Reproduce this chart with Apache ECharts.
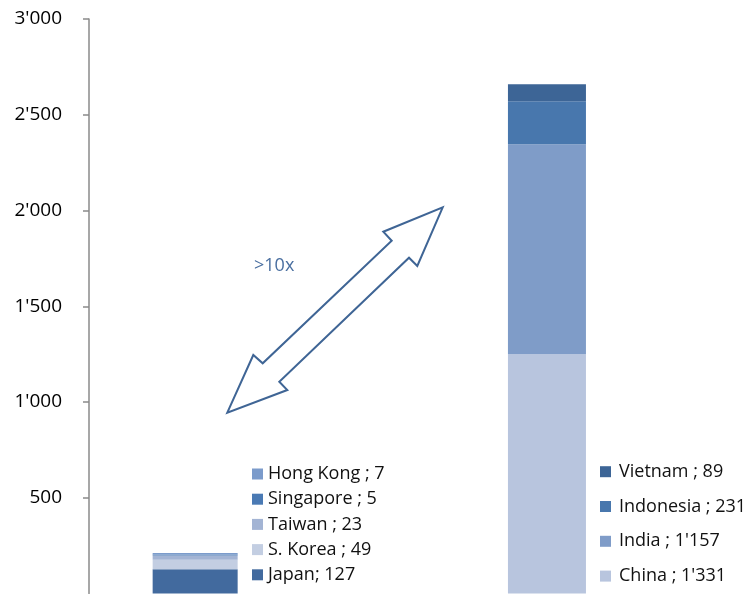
<!DOCTYPE html>
<html>
<head>
<meta charset="utf-8">
<script src="https://cdn.jsdelivr.net/npm/echarts@6/dist/echarts.min.js"></script>
<style>
html, body { margin: 0; padding: 0; background: #fff; }
#main { width: 754px; height: 594px; }
</style>
</head>
<body>
<div id="main"></div>
<script>
// two groups of countries, population in millions
var categories = ['Developed Asia', 'Emerging Asia'];

var leftNames = ['Japan; 127', 'S. Korea ; 49', 'Taiwan ; 23', 'Singapore ; 5', 'Hong Kong ; 7'];
var leftValues = [127, 49, 23, 5, 7];
var leftColors = ['#426a9e', '#c3cee2', '#a3b4d4', '#4a7ab4', '#7b9bcb'];

var rightNames = ["China ; 1'331", "India ; 1'157", 'Indonesia ; 231', 'Vietnam ; 89'];
var rightValues = [1250, 1096, 224, 89];   // bar heights as drawn
var rightColors = ['#b8c5de', '#7f9cc8', '#4877ad', '#3d6596'];

var yTicks = [0, 500, 1000, 1500, 2000, 2500, 3000];

var FONT = 'Open Sans';

function fmt(v) {
    return String(v).replace(/\B(?=(\d{3})+(?!\d))/g, "'");
}

var series = [];
leftNames.forEach(function (n, i) {
    series.push({
        name: n, type: 'bar', stack: 'left', barWidth: 85, barGap: '-100%',
        itemStyle: { color: leftColors[i] },
        data: [leftValues[i], '-']
    });
});
rightNames.forEach(function (n, i) {
    series.push({
        name: n, type: 'bar', stack: 'right', barWidth: 78, barGap: '-100%',
        itemStyle: { color: rightColors[i] },
        data: ['-', rightValues[i]]
    });
});

var chart = echarts.init(document.getElementById('main'));
var option = {
    animation: false,
    grid: { left: 14, right: 29.4, top: 19, bottom: 0.5, outerBoundsMode: 'none', containLabel: false },
    xAxis: {
        type: 'category',
        data: categories,
        show: false
    },
    yAxis: {
        type: 'value',
        min: yTicks[0],
        max: yTicks[yTicks.length - 1],
        interval: 500,
        offset: -75,
        axisLine: { show: true, lineStyle: { color: '#8a8a8a', width: 1.5 } },
        axisTick: { show: true, length: 6, lineStyle: { color: '#8a8a8a', width: 1.5 } },
        splitLine: { show: false },
        axisLabel: {
            margin: 27,
            color: '#000',
            fontFamily: FONT,
            fontSize: 19,
            showMinLabel: false,
            formatter: function (v) { return fmt(v); }
        }
    },
    legend: [
        {
            data: leftNames.slice().reverse(),
            orient: 'vertical',
            left: 252, top: 464,
            padding: 0,
            itemWidth: 11, itemHeight: 11, itemGap: 5.2,
            icon: 'rect',
            selectedMode: false,
            textStyle: { fontFamily: FONT, fontSize: 18, color: '#111', lineHeight: 20 }
        },
        {
            data: rightNames.slice().reverse(),
            orient: 'vertical',
            left: 600, top: 461.7,
            padding: 0,
            itemWidth: 11, itemHeight: 11, itemGap: 14.8,
            icon: 'rect',
            selectedMode: false,
            textStyle: { fontFamily: FONT, fontSize: 18, color: '#111', lineHeight: 20, padding: [0, 0, 0, 3] }
        }
    ],
    graphic: [
        {
            type: 'polygon',
            shape: {
                points: [
                    [227.3, 412.7], [253.3, 355], [262.7, 363.3], [391.7, 240.7],
                    [383.3, 231.7], [442.7, 207.3], [417.3, 266], [409, 257.7],
                    [279.3, 381.7], [287.3, 390]
                ]
            },
            style: { fill: '#fff', stroke: '#3f6595', lineWidth: 2 }
        },
        {
            type: 'text',
            left: 254, top: 257,
            style: { text: '>10x', fill: '#4a6fa0', font: '18px "Open Sans"' }
        }
    ],
    series: series
};
chart.setOption(option);
</script>
</body>
</html>
